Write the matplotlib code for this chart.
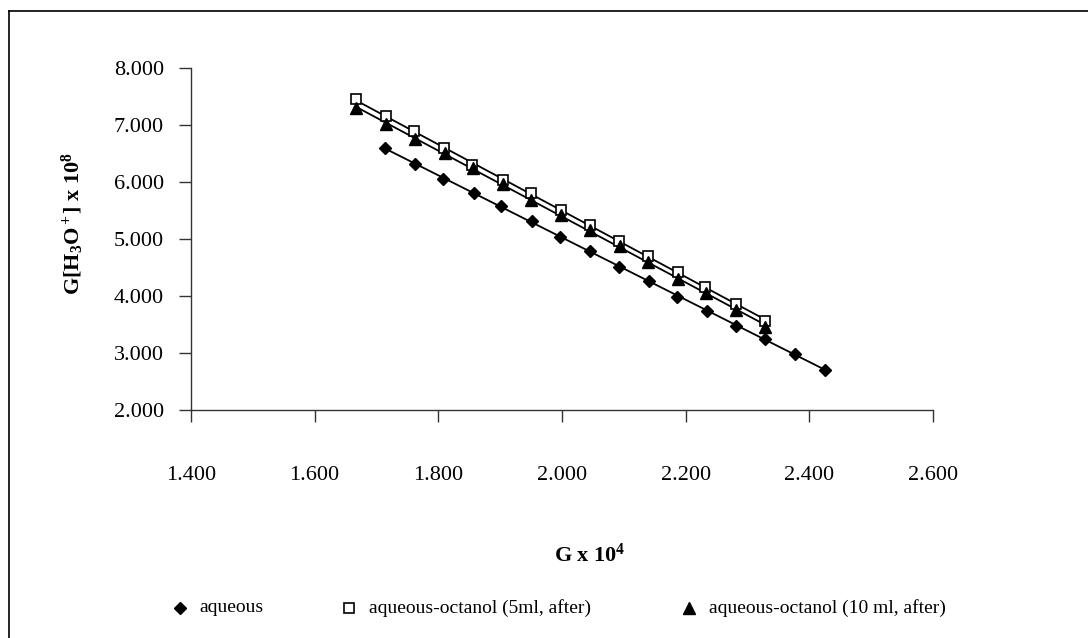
import numpy as np
import matplotlib
matplotlib.use("Agg")
import matplotlib.pyplot as plt
from matplotlib.lines import Line2D

plt.rcParams['font.family'] = ['Liberation Serif', 'DejaVu Serif']
plt.rcParams['mathtext.fontset'] = 'custom'
plt.rcParams['mathtext.rm'] = 'Liberation Serif'
plt.rcParams['mathtext.bf'] = 'Liberation Serif:bold'
plt.rcParams['mathtext.it'] = 'Liberation Serif:italic'

# G x 10^4 vs G[H3O+] x 10^8
g_aq = [1.713, 1.762, 1.808, 1.857, 1.902, 1.951, 1.996, 2.045, 2.092, 2.140,
        2.186, 2.234, 2.282, 2.329, 2.377, 2.426]
h_aq = [6.60, 6.31, 6.06, 5.81, 5.58, 5.32, 5.04, 4.79, 4.51, 4.26,
        3.98, 3.74, 3.48, 3.24, 2.98, 2.71]

g_oct5 = [1.667, 1.715, 1.761, 1.809, 1.855, 1.904, 1.950, 1.998, 2.045, 2.092,
          2.139, 2.187, 2.232, 2.281, 2.329]
h_oct5 = [7.45, 7.16, 6.89, 6.59, 6.30, 6.03, 5.80, 5.51, 5.25, 4.97,
          4.70, 4.42, 4.15, 3.86, 3.57]

g_oct10 = [1.667, 1.716, 1.762, 1.810, 1.856, 1.904, 1.950, 1.999, 2.045, 2.093,
           2.139, 2.187, 2.233, 2.281, 2.329]
h_oct10 = [7.29, 7.01, 6.75, 6.51, 6.25, 5.97, 5.68, 5.42, 5.15, 4.88,
           4.59, 4.30, 4.05, 3.76, 3.46]

labels = ["aqueous", "aqueous-octanol (5ml, after)", "aqueous-octanol (10 ml, after)"]

W, H = 1088, 638
fig = plt.figure(figsize=(W / 100, H / 100), dpi=100)
ax = fig.add_axes([191 / W, 1 - 410 / H, (933 - 191) / W, (410 - 68) / H])

styles = [
    dict(marker='D', markersize=6, markerfacecolor='black', markeredgecolor='black'),
    dict(marker='s', markersize=7, markerfacecolor='white', markeredgecolor='black', markeredgewidth=1.2),
    dict(marker='^', markersize=8, markerfacecolor='black', markeredgecolor='black'),
]

for (gx, hy), st in zip([(g_aq, h_aq), (g_oct5, h_oct5), (g_oct10, h_oct10)], styles):
    gx = np.array(gx)
    hy = np.array(hy)
    # linear trendline over the data range
    k, b = np.polyfit(gx, hy, 1)
    xs = np.array([gx.min(), gx.max()])
    ax.plot(xs, k * xs + b, color='black', lw=1.3, zorder=2)
    ax.plot(gx, hy, linestyle='none', zorder=3, **st)

ax.set_xlim(1.4, 2.6)
ax.set_ylim(2.0, 8.0)
ax.set_xticks(np.arange(1.4, 2.61, 0.2))
ax.set_yticks(np.arange(2, 8.1, 1))
ax.xaxis.set_major_formatter(matplotlib.ticker.FormatStrFormatter('%.3f'))
ax.yaxis.set_major_formatter(matplotlib.ticker.FormatStrFormatter('%.3f'))

for s in ['top', 'right']:
    ax.spines[s].set_visible(False)
for s in ['left', 'bottom']:
    ax.spines[s].set_color('#333333')
    ax.spines[s].set_linewidth(1.0)

ax.tick_params(axis='x', direction='out', length=8.6, width=1.0, color='#333333',
               pad=32, labelsize=16)
ax.tick_params(axis='y', direction='out', length=8.6, width=1.0, color='#333333',
               pad=11, labelsize=16)

fig.text(590 / W, 1 - 555 / H, r'$\mathbf{G\ x\ 10^4}$', ha='center', va='center', fontsize=16)
fig.text(73 / W, 1 - 224 / H, r'$\mathbf{G[H_3O^+]\ x\ 10^8}$', ha='center', va='center',
         rotation=90, fontsize=16)

# legend row
leg_y = 1 - 608 / H
for mx, tx, st, lab in zip([180, 349, 689], [199, 369, 709], styles, labels):
    fig.add_artist(Line2D([mx / W], [leg_y], linestyle='none', transform=fig.transFigure, **st))
    fig.text(tx / W, leg_y, lab, ha='left', va='center', fontsize=14)

# chart frame
fig.add_artist(Line2D([9 / W, 9 / W], [0, 1 - 11 / H], color='black', lw=1.2, transform=fig.transFigure))
fig.add_artist(Line2D([9 / W, 1], [1 - 11 / H, 1 - 11 / H], color='black', lw=1.2, transform=fig.transFigure))

fig.savefig("out.png", dpi=100)
